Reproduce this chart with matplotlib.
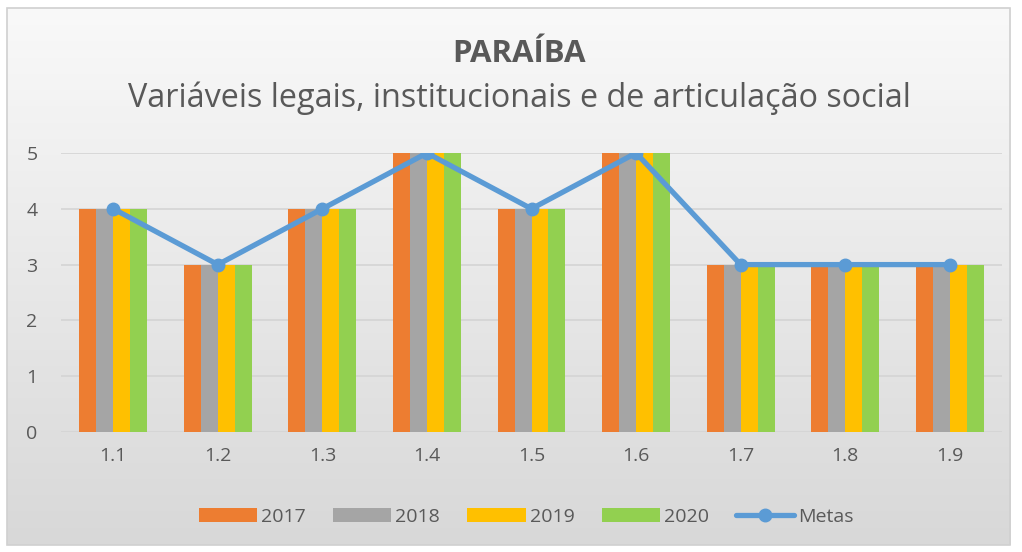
import numpy as np
import matplotlib.pyplot as plt
from matplotlib.patches import Rectangle
from matplotlib.colors import LinearSegmentedColormap

# DATA
categorias = ["1.1", "1.2", "1.3", "1.4", "1.5", "1.6", "1.7", "1.8", "1.9"]
v2017 = [4, 3, 4, 5, 4, 5, 3, 3, 3]
v2018 = [4, 3, 4, 5, 4, 5, 3, 3, 3]
v2019 = [4, 3, 4, 5, 4, 5, 3, 3, 3]
v2020 = [4, 3, 4, 5, 4, 5, 3, 3, 3]
metas = [4, 3, 4, 5, 4, 5, 3, 3, 3]
anos = ["2017", "2018", "2019", "2020"]

cores = ["#ED7D31", "#A5A5A5", "#FFC000", "#92D050"]
cor_metas = "#5B9BD5"
cor_texto = "#595959"

plt.rcParams['font.family'] = ['Open Sans', 'DejaVu Sans']

W, H = 1022, 552
fig = plt.figure(figsize=(W / 100, H / 100), dpi=100)
fig.patch.set_facecolor("white")

# fundo com degrade (area do grafico)
x0, y0, x1, y1 = 7, 8, 1010, 545
bg = fig.add_axes([x0 / W, 1 - y1 / H, (x1 - x0) / W, (y1 - y0) / H])
grad = np.linspace(0, 1, 256).reshape(-1, 1)
bg.imshow(grad, aspect="auto", cmap=LinearSegmentedColormap.from_list(
    "g", ["#F9F9F9", "#D8D8D8"]), extent=[0, 1, 0, 1], origin="upper")
bg.set_axis_off()
fig.patches.append(Rectangle((x0 / W, 1 - y1 / H), (x1 - x0) / W, (y1 - y0) / H,
                             transform=fig.transFigure, fill=False,
                             edgecolor="#D0D0D0", lw=1.2, zorder=5))

# EIXO PRINCIPAL
ax_l, ax_r, ax_t, ax_b = 61, 1002, 153, 432
ax = fig.add_axes([ax_l / W, 1 - ax_b / H, (ax_r - ax_l) / W, (ax_b - ax_t) / H])
ax.patch.set_alpha(0)

x = np.arange(len(categorias))
larg = 0.1625
series = [v2017, v2018, v2019, v2020]
handles = []
for i, (vals, cor, ano) in enumerate(zip(series, cores, anos)):
    b = ax.bar(x + (i - 1.5) * larg, vals, width=larg, color=cor, label=ano, zorder=2)
    handles.append(b)

linha, = ax.plot(x, metas, color=cor_metas, lw=3.8, marker="o", markersize=9,
                 label="Metas", zorder=3, solid_capstyle="round")
handles.append(linha)

ax.set_xlim(-0.5, len(categorias) - 0.5)
ax.set_ylim(0, 5)
ax.set_yticks(range(6))
ax.set_xticks(x)
ax.set_xticklabels(categorias)
ax.yaxis.grid(True, color="#D4D4D4", lw=1.2, zorder=0)
ax.set_axisbelow(True)
for s in ax.spines.values():
    s.set_visible(False)
ax.tick_params(axis="both", length=0, labelsize=14, colors=cor_texto)
ax.tick_params(axis="x", pad=11)
ax.tick_params(axis="y", pad=17)

# TITULOS
fig.text(0.508, 1 - 54 / H, "PARAÍBA", ha="center", va="center",
         fontsize=22.5, fontweight="bold", color=cor_texto)
fig.text(0.508, 1 - 98 / H, "Variáveis legais, institucionais e de articulação social",
         ha="center", va="center", fontsize=23.3, color=cor_texto)

# LEGENDA
leg = ax.legend(handles=handles, labels=anos + ["Metas"], loc="center",
                bbox_to_anchor=(0.515, 1 - 517 / H), bbox_transform=fig.transFigure,
                ncol=5, frameon=False, fontsize=14, handlelength=3.0, handleheight=0.7,
                columnspacing=1.4, handletextpad=0.2, labelcolor=cor_texto)

fig.savefig("out.png", dpi=100)
